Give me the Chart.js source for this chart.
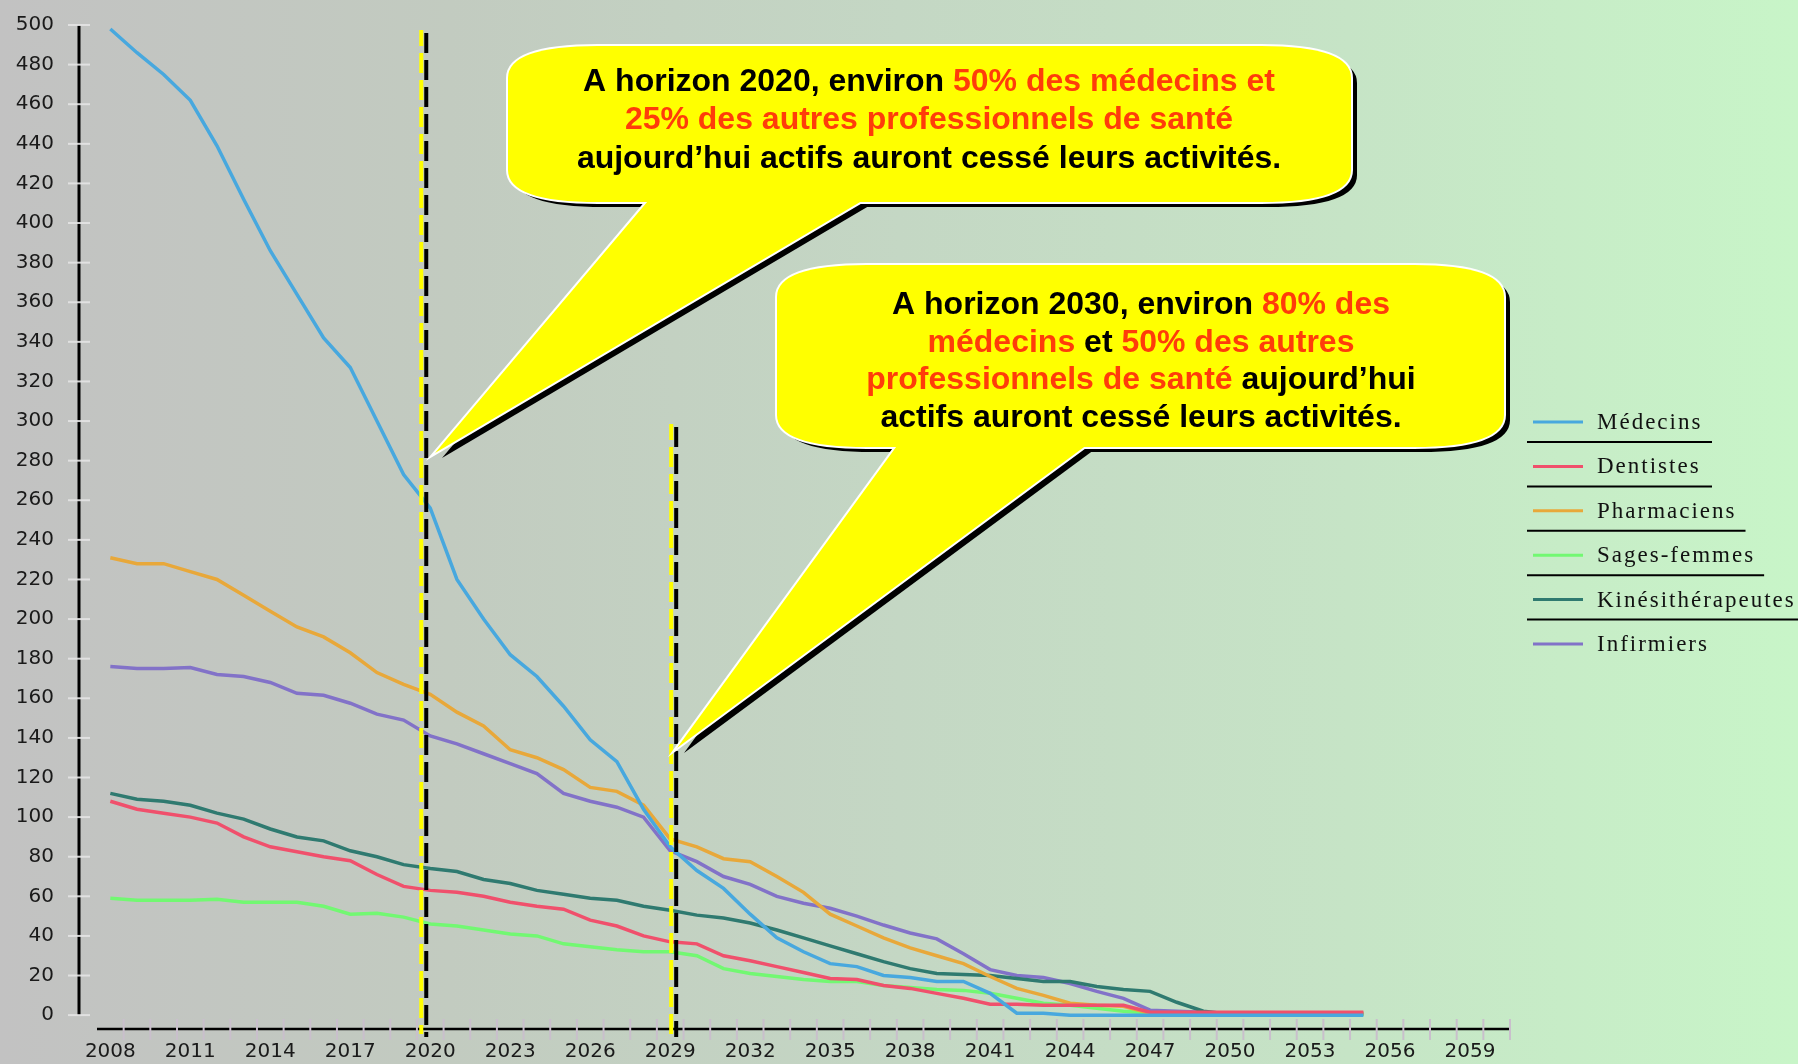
<!DOCTYPE html>
<html>
<head>
<meta charset="utf-8">
<script src="https://cdn.jsdelivr.net/npm/chart.js@4.4.1/dist/chart.umd.min.js"></script>
<style>
  html, body { margin: 0; padding: 0; background: #c4d8c4; }
  #myChart { display: block; }
</style>
</head>
<body>
<canvas id="myChart" width="1798" height="1064"></canvas>
<script>
// categories (years on the x axis)
var years = ["2008","2009","2010","2011","2012","2013","2014","2015","2016","2017",
  "2018","2019","2020","2021","2022","2023","2024","2025","2026","2027",
  "2028","2029","2030","2031","2032","2033","2034","2035","2036","2037",
  "2038","2039","2040","2041","2042","2043","2044","2045","2046","2047",
  "2048","2049","2050","2051","2052","2053","2054","2055","2056","2057",
  "2058","2059","2060"];
var xTickLabels = ["2008","2011","2014","2017","2020","2023","2026","2029","2032",
  "2035","2038","2041","2044","2047","2050","2053","2056","2059"];
var yTicks = [0,20,40,60,80,100,120,140,160,180,200,220,240,260,280,300,320,340,
  360,380,400,420,440,460,480,500];

// series values 2008 -> 2055
var medecins = [498,486,475,462,439,412,386,364,342,327,300,273,256,
  220,200,182,171,156,139,128,104,85,
  73,64,51,39,32,26,24.5,20,19,17,17,11,1,1,0,
  0,0,0,0,0,0,0,0,0,0,0];
var dentistes = [108,104,102,100,97,90,85,82.5,80,78,71,65,63,62,60,57,55,53.5,48,45,40,37,
  36,30,27.5,24.5,21.5,18.5,18,15,13.5,11,8.5,5.5,5.5,5,5,5,5,
  1.5,1.5,1.5,1.5,1.5,1.5,1.5,1.5,1.5];
var pharmaciens = [231,228,228,224,220,212,204,196,191,183,173,167,162,153,146,134,130,124,115,113,106,89,
  85,79,77.5,70,62,51,45,39,34,30,26,19.5,13.5,10,6,5,4.5,
  1,1,1,1,1,1,1,1,1];
var sagesFemmes = [59,58,58,58,58.5,57,57,57,55,51,51.5,49.5,46,45,43,41,40,36,34.5,33,32,32,
  30,23.5,21,19.5,18,17,17,15,14,13,12.5,11,8.5,6,5,3.5,2,
  1,0.5,0.5,0.5,0.5,0.5,0.5,0.5,0.5];
var kines = [112,109,108,106,102,99,94,90,88,83,80,76,74,72.5,68.5,66.5,63,61,59,58,55,53,
  50.5,49,46.5,43,39,35,31,27,23.5,21,20.5,20,18.5,17,17,14.5,13,
  12,6.5,2,0.5,0.5,0.5,0.5,0.5,0.5];
var infirmiers = [176,175,175,175.5,172,171,168,162.5,161.5,157.5,152,149,141,137,132,127,122,112,108,105,100,83,
  77.5,70,66,60,56.5,54,50,45.5,41.5,38.5,31,23,20,19,16,12,8.5,
  2.5,2,1.5,1,1,1,1,1,1];

var seriesNames = ["Médecins","Dentistes","Pharmaciens","Sages-femmes","Kinésithérapeutes","Infirmiers"];
var seriesColors = ["#48a8de","#f0506c","#e8a83a","#72f872","#2f7a70","#8272c8"];
var seriesData = [medecins, dentistes, pharmaciens, sagesFemmes, kines, infirmiers];

// the two dashed year markers
var markerYears = ["2020","2029"];
var markerTops = [496, 297];

var RED = "#ff3c0a";
var callouts = [
  { l: 508, t: 46, r: 1351, b: 202, tip: [435, 453], base: [647, 860], cx: 929, y0: 82, lh: 38.5,
    lines: [
      [["A horizon 2020, environ ", "#000"], ["50% des médecins et", RED]],
      [["25% des autres professionnels de santé", RED]],
      [["aujourd’hui actifs auront cessé leurs activités.", "#000"]]
    ] },
  { l: 777, t: 265, r: 1504, b: 447, tip: [677, 748], base: [896, 1084], cx: 1141, y0: 305, lh: 37.7,
    lines: [
      [["A horizon 2030, environ ", "#000"], ["80% des", RED]],
      [["médecins", RED], [" et ", "#000"], ["50% des autres", RED]],
      [["professionnels de santé", RED], [" aujourd’hui", "#000"]],
      [["actifs auront cessé leurs activités.", "#000"]]
    ] }
];

function bubblePath(ctx, c, dx, dy) {
  var l = c.l + dx, t = c.t + dy, r = c.r + dx, b = c.b + dy;
  var rx = 90, ry = 32;
  ctx.beginPath();
  ctx.moveTo(l + rx, t);
  ctx.lineTo(r - rx, t);
  ctx.quadraticCurveTo(r, t, r, t + ry);
  ctx.lineTo(r, b - ry);
  ctx.quadraticCurveTo(r, b, r - rx, b);
  ctx.lineTo(l + rx, b);
  ctx.quadraticCurveTo(l, b, l, b - ry);
  ctx.lineTo(l, t + ry);
  ctx.quadraticCurveTo(l, t, l + rx, t);
  ctx.closePath();
}
// pointer runs from the tip through the base points on the bubble bottom, a bit into the bubble
function pointerPath(ctx, c, dx, dy) {
  var tx = c.tip[0], ty = c.tip[1], ext = 1.12;
  ctx.beginPath();
  ctx.moveTo(tx + (c.base[0] - tx) * ext + dx, ty + (c.b - ty) * ext + dy);
  ctx.lineTo(tx + dx, ty + dy);
  ctx.lineTo(tx + (c.base[1] - tx) * ext + dx, ty + (c.b - ty) * ext + dy);
  ctx.closePath();
}

var decor = {
  id: "decor",
  beforeDraw: function (chart) {
    var ctx = chart.ctx;
    var g = ctx.createLinearGradient(0, 0, chart.width, 0);
    g.addColorStop(0, "#c2c2c2");
    g.addColorStop(0.25, "#c2cbc0");
    g.addColorStop(0.5, "#c4d7c4");
    g.addColorStop(0.75, "#c6e4c6");
    g.addColorStop(1, "#c8f5c8");
    ctx.save();
    ctx.fillStyle = g;
    ctx.fillRect(0, 0, chart.width, chart.height);
    ctx.restore();
  },
  beforeDatasetsDraw: function (chart) {
    var ctx = chart.ctx, xs = chart.scales.x, ys = chart.scales.y, area = chart.chartArea;
    ctx.save();
    // y axis line
    ctx.strokeStyle = "#000";
    ctx.lineWidth = 3;
    ctx.beginPath();
    ctx.moveTo(79, ys.getPixelForValue(500));
    ctx.lineTo(79, ys.getPixelForValue(0));
    ctx.stroke();
    ctx.strokeStyle = "rgba(228,228,228,0.9)";
    ctx.lineWidth = 2;
    yTicks.forEach(function (v) {
      var y = ys.getPixelForValue(v);
      ctx.beginPath();
      ctx.moveTo(68, y);
      ctx.lineTo(90, y);
      ctx.stroke();
    });
    // x axis line
    ctx.strokeStyle = "#000";
    ctx.lineWidth = 2.5;
    ctx.beginPath();
    ctx.moveTo(area.left, area.bottom);
    ctx.lineTo(area.right, area.bottom);
    ctx.stroke();
    ctx.strokeStyle = "#c9bfcc";
    ctx.lineWidth = 2;
    for (var i = 1; i <= years.length; i++) {
      var x = i < years.length ? (xs.getPixelForValue(i - 1) + xs.getPixelForValue(i)) / 2 : area.right;
      ctx.beginPath();
      ctx.moveTo(x, area.bottom - 10);
      ctx.lineTo(x, area.bottom + 11);
      ctx.stroke();
    }
    ctx.restore();
  },
  afterDatasetsDraw: function (chart) {
    var ctx = chart.ctx, xs = chart.scales.x, ys = chart.scales.y, area = chart.chartArea;
    ctx.save();
    // dashed markers
    var shifts = [-4, 6];
    markerYears.forEach(function (yr, k) {
      var x = xs.getPixelForValue(years.indexOf(yr)) + shifts[k];
      var top = ys.getPixelForValue(markerTops[k]);
      ctx.lineWidth = 4;
      ctx.setLineDash([20, 7]);
      ctx.strokeStyle = "#ffff00";
      ctx.lineDashOffset = 4;
      ctx.beginPath();
      ctx.moveTo(x - 5, top - 3);
      ctx.lineTo(x - 5, area.bottom + 5);
      ctx.stroke();
      ctx.strokeStyle = "#000";
      ctx.lineDashOffset = 0;
      ctx.beginPath();
      ctx.moveTo(x, top);
      ctx.lineTo(x, area.bottom + 8);
      ctx.stroke();
    });
    ctx.setLineDash([]);
    // callouts
    callouts.forEach(function (c) {
      ctx.fillStyle = "#000";
      bubblePath(ctx, c, 6, 5); ctx.fill();
      pointerPath(ctx, c, 7, 5); ctx.fill();
      ctx.strokeStyle = "#fff";
      ctx.lineWidth = 4;
      ctx.lineJoin = "miter";
      bubblePath(ctx, c, 0, 0); ctx.stroke();
      pointerPath(ctx, c, 0, 0); ctx.stroke();
      ctx.fillStyle = "#ffff00";
      bubblePath(ctx, c, 0, 0); ctx.fill();
      pointerPath(ctx, c, 0, 0); ctx.fill();
      ctx.font = "bold 32px 'Liberation Sans', Arial, sans-serif";
      ctx.textBaseline = "middle";
      ctx.textAlign = "left";
      c.lines.forEach(function (parts, i) {
        var w = 0;
        parts.forEach(function (p) { w += ctx.measureText(p[0]).width; });
        var x = c.cx - w / 2;
        parts.forEach(function (p) {
          ctx.fillStyle = p[1];
          ctx.fillText(p[0], x, c.y0 + i * c.lh);
          x += ctx.measureText(p[0]).width;
        });
      });
    });
    ctx.restore();
  },
  afterDraw: function (chart) {
    // legend with separator rules
    var ctx = chart.ctx;
    ctx.save();
    ctx.font = "23px 'Liberation Serif', 'Times New Roman', serif";
    ctx.letterSpacing = "2px";
    ctx.textBaseline = "middle";
    chart.data.datasets.forEach(function (ds, i) {
      var y = 422 + i * 44.4;
      ctx.strokeStyle = ds.borderColor;
      ctx.lineWidth = 3;
      ctx.beginPath();
      ctx.moveTo(1533, y);
      ctx.lineTo(1583, y);
      ctx.stroke();
      ctx.fillStyle = "#111";
      ctx.fillText(ds.label, 1597, y + 1);
      if (i < chart.data.datasets.length - 1) {
        var end = Math.min(1798, Math.max(1597 + ctx.measureText(ds.label).width, 1703) + 9);
        ctx.strokeStyle = "#000";
        ctx.lineWidth = 2;
        ctx.beginPath();
        ctx.moveTo(1527, y + 20);
        ctx.lineTo(end, y + 20);
        ctx.stroke();
      }
    });
    ctx.restore();
  }
};

function noPad(s) {
  s.paddingTop = 0;
  s.paddingBottom = 0;
  s.paddingLeft = 0;
  s.paddingRight = 0;
}

var datasets = seriesNames.map(function (name, i) {
  return {
    label: name,
    data: seriesData[i],
    borderColor: seriesColors[i],
    backgroundColor: seriesColors[i],
    borderWidth: 3.5,
    pointRadius: 0,
    tension: 0,
    fill: false
  };
});

var ctx = document.getElementById("myChart").getContext("2d");
var myChart = new Chart(ctx, {
  type: "line",
  data: { labels: years, datasets: datasets },
  options: {
    responsive: false,
    animation: false,
    devicePixelRatio: 1,
    layout: { padding: { top: 25, right: 288, left: 0, bottom: 0 } },
    plugins: { legend: { display: false }, tooltip: { enabled: false } },
    scales: {
      x: {
        offset: true,
        grid: { display: false, drawTicks: false },
        border: { display: false },
        ticks: {
          autoSkip: false,
          maxRotation: 0,
          padding: 11,
          color: "#1a1a1a",
          font: { family: "'DejaVu Sans'", size: 20 },
          callback: function (val, i) {
            return xTickLabels.indexOf(years[i]) >= 0 ? years[i] : "";
          }
        },
        afterFit: function (s) { s.height = 35; noPad(s); }
      },
      y: {
        min: -7,
        max: 500,
        grid: { display: false, drawTicks: false },
        border: { display: false },
        afterBuildTicks: function (s) {
          s.ticks = yTicks.map(function (v) { return { value: v }; });
        },
        ticks: {
          padding: 43,
          color: "#1a1a1a",
          font: { family: "'DejaVu Sans'", size: 20 }
        },
        afterFit: function (s) { s.width = 97; noPad(s); }
      }
    }
  },
  plugins: [decor]
});
</script>
</body>
</html>
